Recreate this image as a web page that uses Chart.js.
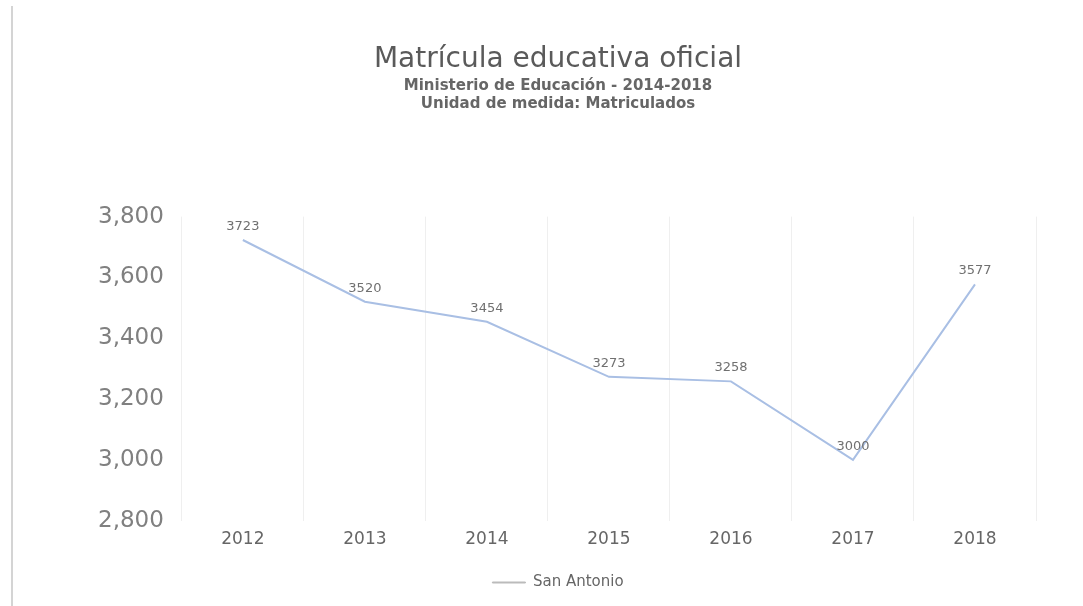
<!DOCTYPE html>
<html>
<head>
<meta charset="utf-8">
<script src="https://cdn.jsdelivr.net/npm/chart.js@4.4.0/dist/chart.umd.min.js"></script>
<style>
  html, body { margin: 0; padding: 0; background: #fff; }
  #wrap { position: relative; width: 1083px; height: 606px; }
  #edge { position: absolute; left: 11px; top: 6px; width: 2px; height: 600px; background: #d4d4d4; }
</style>
</head>
<body>
<div id="wrap">
  <div id="edge"></div>
  <canvas id="graphCanvas" width="1083" height="606"></canvas>
</div>
<script>
// datos
let anios = ['2012', '2013', '2014', '2015', '2016', '2017', '2018'];
let sanAntonio = [3723, 3520, 3454, 3273, 3258, 3000, 3577];
let ejeY = { min: 2800, max: 3800, paso: 200 };

// etiquetas encima de cada punto
const etiquetasPuntos = {
  id: 'etiquetasPuntos',
  afterDatasetsDraw(chart) {
    let ctx = chart.ctx;
    let meta = chart.getDatasetMeta(0);
    ctx.save();
    ctx.font = '13px "DejaVu Sans"';
    ctx.fillStyle = '#707070';
    ctx.textAlign = 'center';
    ctx.textBaseline = 'bottom';
    meta.data.forEach(function(p, i) {
      ctx.fillText(chart.data.datasets[0].data[i], p.x, p.y - 7);
    });
    ctx.restore();
  }
};

let chartdata = {
  labels: anios,
  datasets: [{
    label: 'San Antonio',
    borderColor: '#a9bfe4',
    backgroundColor: '#a9bfe4',
    borderWidth: 2,
    pointRadius: 0,
    tension: 0,
    fill: false,
    data: sanAntonio
  }]
};

let graphTarget = document.getElementById('graphCanvas');
let lineGraph = new Chart(graphTarget, {
  type: 'line',
  data: chartdata,
  plugins: [etiquetasPuntos],
  options: {
    responsive: false,
    animation: false,
    layout: { padding: { left: 80, right: 47, top: 43, bottom: 6 } },
    plugins: {
      title: {
        display: true,
        text: 'Matrícula educativa oficial',
        color: '#5a5a5a',
        font: { family: 'DejaVu Sans', size: 28, weight: 'normal' },
        padding: { top: 0, bottom: 1 }
      },
      subtitle: {
        display: true,
        text: ['Ministerio de Educación - 2014-2018', 'Unidad de medida: Matriculados'],
        color: '#666',
        font: { family: 'DejaVu Sans', size: 15, weight: 'bold', lineHeight: 1.2 },
        padding: { top: 0, bottom: 103 }
      },
      legend: {
        position: 'bottom',
        labels: {
          color: '#666',
          font: { family: 'DejaVu Sans', size: 15 },
          boxWidth: 33,
          boxHeight: 1,
          padding: 16,
          generateLabels: function(chart) {
            return [{
              text: 'San Antonio',
              fillStyle: '#bbbbbb',
              strokeStyle: '#bbbbbb',
              fontColor: '#666',
              lineWidth: 1,
              datasetIndex: 0
            }];
          }
        }
      },
      tooltip: { enabled: false }
    },
    scales: {
      x: {
        offset: true,
        grid: { display: true, offset: true, color: '#efefef', drawTicks: false },
        border: { display: false },
        ticks: { color: '#666', font: { family: 'DejaVu Sans', size: 17 }, padding: 9 }
      },
      y: {
        min: ejeY.min,
        max: ejeY.max,
        grid: { display: false, drawTicks: false },
        border: { display: false },
        ticks: {
          stepSize: ejeY.paso,
          color: '#808080',
          font: { family: 'DejaVu Sans', size: 23 },
          padding: 18,
          callback: function(v) { return v.toLocaleString('en-US'); }
        }
      }
    }
  }
});
</script>
</body>
</html>
